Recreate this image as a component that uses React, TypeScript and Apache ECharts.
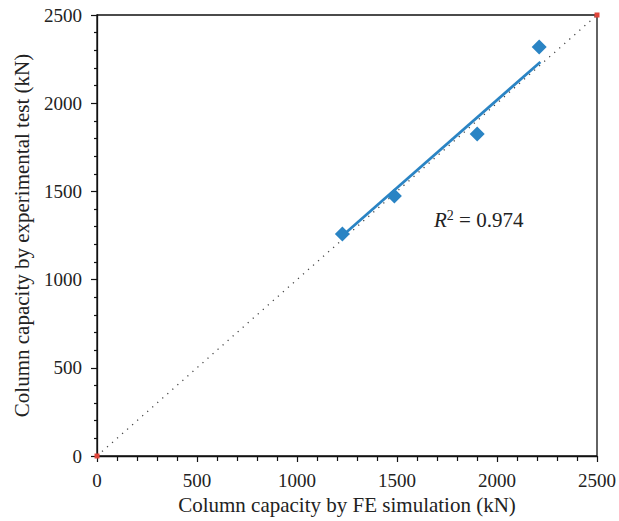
import React, { useEffect, useRef } from "react";
import * as echarts from "echarts";

const feSimulation = [1227, 1487, 1901, 2211];
const experimentalTest = [1258, 1474, 1825, 2319];
const fitLineX = [1227, 2217];
const fitLineY = [1248, 2234];
const equalityLine = [0, 2500];
const axisTicks = [0, 500, 1000, 1500, 2000, 2500];
const r2Value = "0.974";

const FONT = "'Liberation Serif', 'DejaVu Serif', serif";
const BLUE = "#2a84c4";

export default function App() {
  const ref = useRef<HTMLDivElement>(null);
  useEffect(() => {
    if (!ref.current) return;
    const chart = echarts.init(ref.current, undefined, { renderer: "svg" });
    const axisCommon = {
      type: "value" as const,
      min: axisTicks[0],
      max: axisTicks[axisTicks.length - 1],
      interval: axisTicks[1] - axisTicks[0],
      nameLocation: "middle" as const,
      nameTextStyle: { fontFamily: FONT, fontSize: 21, color: "#222" },
      axisLine: { show: true, lineStyle: { color: "#111", width: 1.3 } },
      axisTick: { show: true, inside: false, length: 6, lineStyle: { color: "#111", width: 1.2 } },
      splitLine: { show: false },
      minorSplitLine: { show: false },
    };
    const labelStyle = {
      fontFamily: FONT,
      fontSize: 19,
      color: "#222",
      formatter: (v: number) => String(v),
    };
    chart.setOption({
      animation: false,
      backgroundColor: "#fff",
      grid: {
        left: 97,
        top: 15,
        right: 21,
        bottom: 65,
        show: true,
        borderColor: "#111",
        borderWidth: 1.3,
      },
      xAxis: {
        ...axisCommon,
        name: "Column capacity by FE simulation (kN)",
        nameGap: 37,
        minorTick: { show: true, splitNumber: 5, length: 5, lineStyle: { color: "#111", width: 1.2 } },
        axisLabel: { ...labelStyle, margin: 15 },
      },
      yAxis: {
        ...axisCommon,
        name: "Column capacity by experimental test (kN)",
        nameGap: 65,
        minorTick: { show: true, splitNumber: 5, length: 3, lineStyle: { color: "#111", width: 1.2 } },
        axisLabel: { ...labelStyle, margin: 15 },
      },
      series: [
        {
          type: "line",
          data: equalityLine.map((v) => [v, v]),
          lineStyle: { color: "#444", width: 1.3, type: [1.2, 5.5] },
          symbol: "rect",
          symbolSize: 5,
          showSymbol: true,
          itemStyle: { color: "#e0453a" },
          z: 1,
        },
        {
          type: "line",
          data: fitLineX.map((x, i) => [x, fitLineY[i]]),
          lineStyle: { color: BLUE, width: 2.7 },
          symbol: "none",
          z: 2,
        },
        {
          type: "scatter",
          data: feSimulation.map((x, i) => [x, experimentalTest[i]]),
          symbol: "diamond",
          symbolSize: 15,
          itemStyle: { color: BLUE, opacity: 1 },
          z: 3,
        },
      ],
      graphic: [
        {
          type: "text",
          left: 434,
          top: 208,
          style: {
            text: "{i|R}{s|2}{n| = " + r2Value + "}",
            rich: {
              i: { fontFamily: FONT, fontSize: 21, fontStyle: "italic", fill: "#222", lineHeight: 24 },
              s: { fontFamily: FONT, fontSize: 14, fill: "#222", lineHeight: 14, verticalAlign: "top" },
              n: { fontFamily: FONT, fontSize: 21, fill: "#222", lineHeight: 24 },
            },
          },
        },
      ],
    });
    return () => chart.dispose();
  }, []);
  return (
    <div
      ref={ref}
      style={{ position: "fixed", left: 0, top: 0, width: 619, height: 521 }}
    />
  );
}
